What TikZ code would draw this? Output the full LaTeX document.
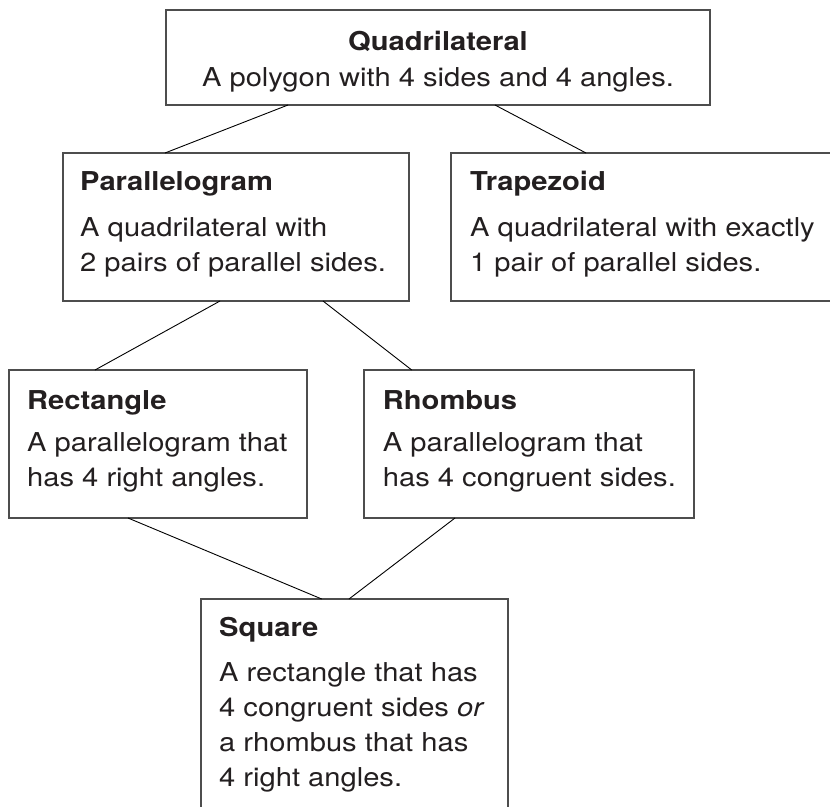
\documentclass[tikz,border=0pt]{standalone}
\usepackage{fontspec}
\setmainfont{TeX Gyre Heros}[FakeStretch=1.12]
\definecolor{ink}{HTML}{231F20}
\definecolor{edge}{HTML}{4D4D4D}
\begin{document}
\begin{tikzpicture}[x=1pt,y=-1pt,
  box/.style={draw=edge, line width=1.3pt, rectangle, inner sep=0pt, outer sep=0pt, anchor=north west},
  ttl/.style={font=\fontsize{26}{35}\selectfont\bfseries, text=ink, inner sep=0pt, anchor=base west},
  txt/.style={font=\fontsize{26}{35}\selectfont, text=ink, inner sep=0pt, anchor=base west},
  link/.style={draw=black, line width=0.9pt}]
\useasboundingbox (0,0) rectangle (830,806);
\clip (0,0) rectangle (830,806);

% boxes
\node[box, minimum width=544pt, minimum height=95pt]  (quad)  at (166,10)  {};
\node[box, minimum width=346pt, minimum height=148pt] (para)  at (63,153)  {};
\node[box, minimum width=390pt, minimum height=148pt] (trap)  at (451,153) {};
\node[box, minimum width=298pt, minimum height=148pt] (rect)  at (9,370)   {};
\node[box, minimum width=330pt, minimum height=148pt] (rhomb) at (364,370) {};
\node[box, minimum width=307pt, minimum height=240pt] (sq)    at (201,599) {};

% texts
\node[ttl, anchor=base] (quadT) at (438,50) {Quadrilateral};
\node[txt, anchor=base] (quadB) at (438,86) {A polygon with 4 sides and 4 angles.};

\node[ttl] (paraT) at (80,190.7) {Parallelogram};
\node[txt] (paraB) at (80,236.7) {\vtop{\hbox{A quadrilateral with}\hbox{2 pairs of parallel sides.}}};

\node[ttl] (trapT) at (470,190.7) {Trapezoid};
\node[txt] (trapB) at (470,236.7) {\vtop{\hbox{A quadrilateral with exactly}\hbox{1 pair of parallel sides.}}};

\node[ttl] (rectT) at (27,409) {Rectangle};
\node[txt] (rectB) at (27,451) {\vtop{\hbox{A parallelogram that}\hbox{has 4 right angles.}}};

\node[ttl] (rhombT) at (382.7,409) {Rhombus};
\node[txt] (rhombB) at (382.7,451) {\vtop{\hbox{A parallelogram that}\hbox{has 4 congruent sides.}}};

\node[ttl] (sqT) at (219,636) {Square};
\node[txt] (sqB) at (219,681.5) {\vtop{\hbox{A rectangle that has}\hbox{4 congruent sides \textit{or}}\hbox{a rhombus that has}\hbox{4 right angles.}}};

% connectors
\draw[link] ([xshift=122pt]quad.south west) -- ([xshift=102pt]para.north west);
\draw[link] ([xshift=329pt]quad.south west) -- ([xshift=135pt]trap.north west);
\draw[link] ([xshift=157pt]para.south west) -- ([xshift=86pt]rect.north west);
\draw[link] ([xshift=260pt]para.south west) -- ([xshift=47.7pt]rhomb.north west);
\draw[link] ([xshift=119pt]rect.south west) -- ([xshift=120.7pt]sq.north west);
\draw[link] ([xshift=91pt]rhomb.south west) -- ([xshift=148pt]sq.north west);
\end{tikzpicture}
\end{document}
